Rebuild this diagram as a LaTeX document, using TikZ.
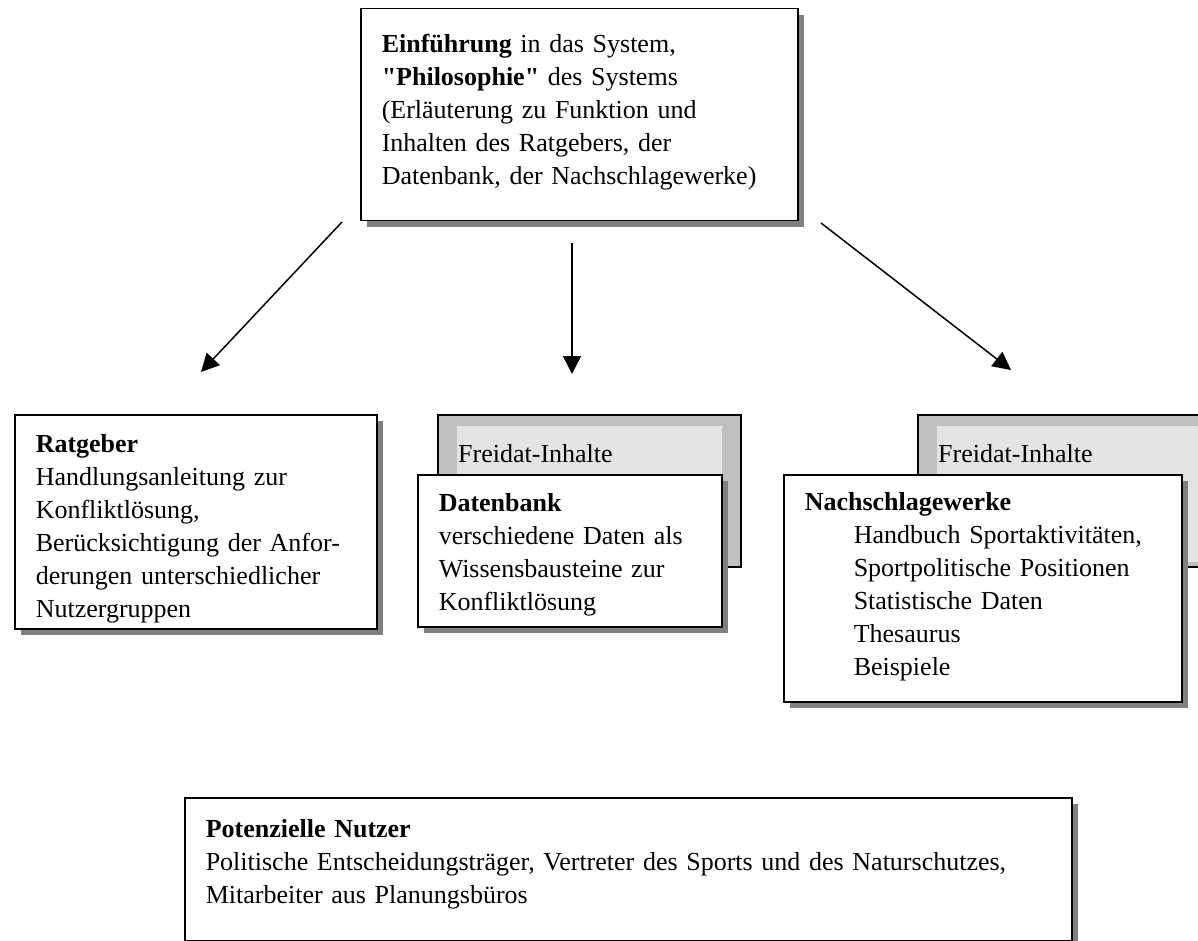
\documentclass[tikz,border=0pt]{standalone}
\usepackage{fontspec}
\setmainfont{Liberation Serif}
\usetikzlibrary{arrows.meta, shadows}
\definecolor{shadowgray}{HTML}{808080}
\definecolor{backgray}{HTML}{C0C0C0}
\definecolor{tabgray}{HTML}{E4E4E4}
\tikzset{
  box/.style={rectangle,draw,line width=1.5pt,fill=white,anchor=north west,align=left,inner xsep=21pt,inner ysep=0pt,
    drop shadow={shadow xshift=6pt,shadow yshift=-6pt,fill=shadowgray,opacity=1}},
  backbox/.style={rectangle,draw,line width=1.5pt,fill=backgray,anchor=north west,inner sep=0pt,minimum width=303pt,minimum height=152pt},
  tab/.style={rectangle,fill=tabgray,anchor=north west,align=left,inner xsep=1pt,inner ysep=0pt,text width=263pt,text height=36pt,text depth=100pt},
  line/.style={line width=1.5pt,-{Triangle[length=18pt,width=18pt]}}
}

\begin{document}
\begin{tikzpicture}[x=1pt,y=-1pt,every node/.style={font=\fontsize{26}{33}\selectfont}]
\useasboundingbox (0,0) rectangle (1198,941);
\node[box, text width=395pt, text height=44pt, text depth=168pt] (intro) at (360,8)
  {\textbf{Einführung} in das System,\\\textbf{\textquotedbl Philosophie\textquotedbl} des Systems\\(Erläuterung zu Funktion und\\Inhalten des Ratgebers, der\\Datenbank, der Nachschlagewerke)};
\node[box, text width=320pt, text height=38pt, text depth=176pt] (ratgeber) at (14,414)
  {\textbf{Ratgeber}\\Handlungsanleitung zur\\Konfliktlösung,\\Berücksichtigung der Anfor-\\derungen unterschiedlicher\\Nutzergruppen};
\node[backbox] (freidatA) at (437,414) {};
\node[tab] (tabA) at (457,426) {Freidat-Inhalte};
\node[box, text width=262pt, text height=37pt, text depth=115pt] (datenbank) at (417,474)
  {\textbf{Datenbank}\\verschiedene Daten als\\Wissensbausteine zur\\Konfliktlösung};
\node[backbox] (freidatB) at (917,414) {};
\node[tab] (tabB) at (937,426) {Freidat-Inhalte};
\node[box, text width=356pt, text height=36pt, text depth=191pt] (nachschlag) at (783,474)
  {\textbf{Nachschlagewerke}\\\hspace*{49pt}Handbuch Sportaktivitäten,\\\hspace*{49pt}Sportpolitische Positionen\\\hspace*{49pt}Statistische Daten\\\hspace*{49pt}Thesaurus\\\hspace*{49pt}Beispiele};
\node[box, text width=845pt, text height=40pt, text depth=103pt] (nutzer) at (184,797)
  {\textbf{Potenzielle Nutzer}\\Politische Entscheidungsträger, Vertreter des Sports und des Naturschutzes,\\Mitarbeiter aus Planungsbüros};
\coordinate (l0) at (342,222);
\coordinate (l1) at (201,372);
\coordinate (m0) at (572,243);
\coordinate (m1) at (572,374);
\coordinate (r0) at (821,223);
\coordinate (r1) at (1011,370);
\draw[line] (l0) -- (l1);
\draw[line] (m0) -- (m1);
\draw[line] (r0) -- (r1);
\end{tikzpicture}
\end{document}
